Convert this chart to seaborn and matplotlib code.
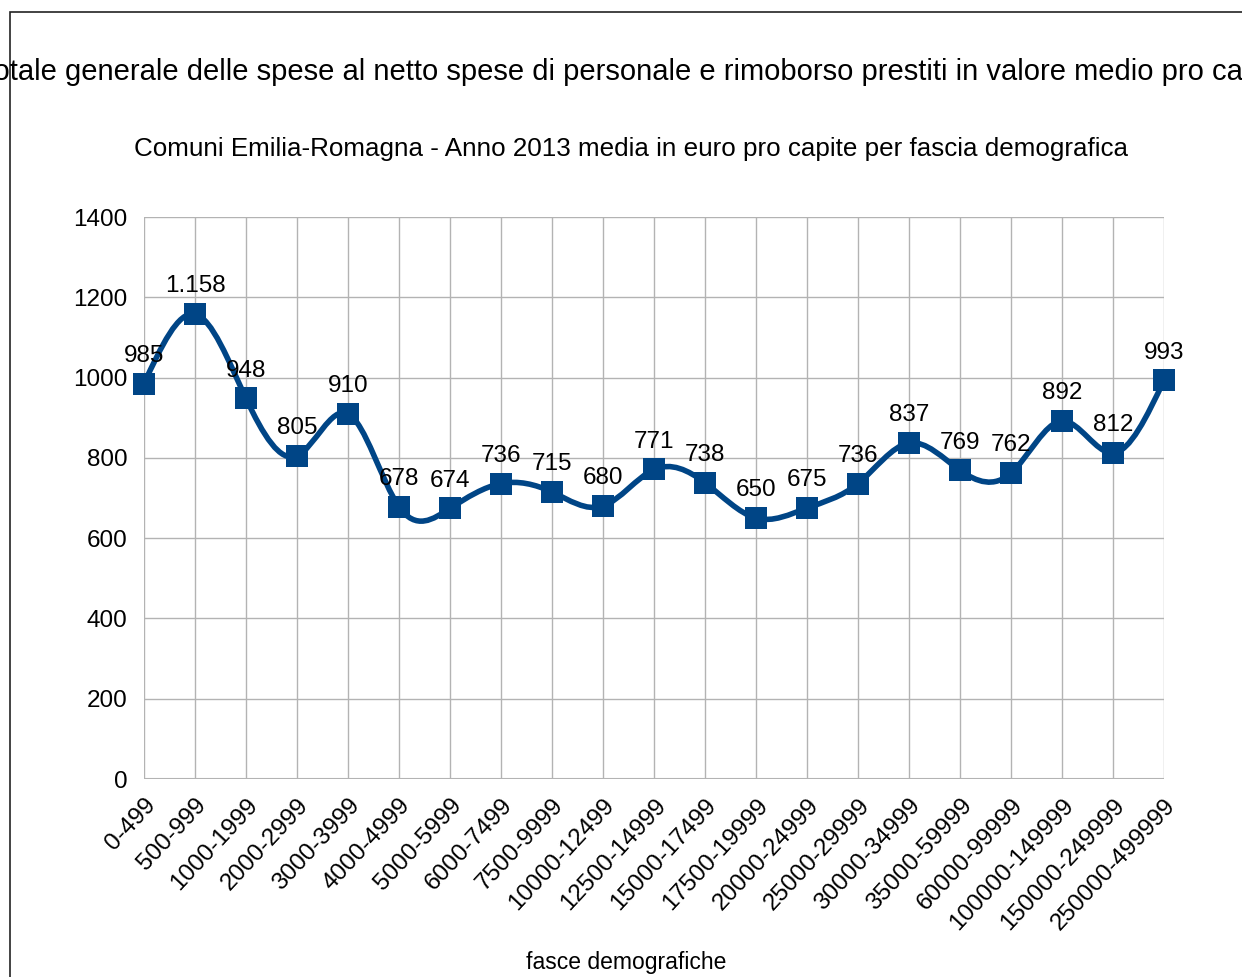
import numpy as np
import matplotlib
matplotlib.use("Agg")
import matplotlib.pyplot as plt
from matplotlib.path import Path
from matplotlib.patches import PathPatch, Rectangle
import seaborn as sns

TITLE = ("Totale generale delle spese al netto spese di personale e rimoborso "
         "prestiti in valore medio pro capite")
SUBTITLE = "Comuni Emilia-Romagna - Anno 2013 media in euro pro capite per fascia demografica"
X_LABEL = "fasce demografiche"

fasce = ["0-499", "500-999", "1000-1999", "2000-2999", "3000-3999", "4000-4999",
         "5000-5999", "6000-7499", "7500-9999", "10000-12499", "12500-14999",
         "15000-17499", "17500-19999", "20000-24999", "25000-29999", "30000-34999",
         "35000-59999", "60000-99999", "100000-149999", "150000-249999", "250000-499999"]
spesa = [985, 1158, 948, 805, 910, 678, 674, 736, 715, 680, 771,
         738, 650, 675, 736, 837, 769, 762, 892, 812, 993]
y_ticks = [0, 200, 400, 600, 800, 1000, 1200, 1400]

BLUE = "#004586"
GRID = "#b3b3b3"


def spline_path(xs, ys):
    # natural cubic spline (like the office chart), drawn as bezier segments
    x = np.asarray(xs, float)
    y = np.asarray(ys, float)
    n = len(x)
    h = np.diff(x)
    A = np.zeros((n, n))
    b = np.zeros(n)
    A[0, 0] = A[-1, -1] = 1
    for i in range(1, n - 1):
        A[i, i - 1] = h[i - 1]
        A[i, i] = 2 * (h[i - 1] + h[i])
        A[i, i + 1] = h[i]
        b[i] = 6 * ((y[i + 1] - y[i]) / h[i] - (y[i] - y[i - 1]) / h[i - 1])
    m = np.linalg.solve(A, b)
    verts = [(x[0], y[0])]
    codes = [Path.MOVETO]
    for i in range(n - 1):
        slope = (y[i + 1] - y[i]) / h[i]
        d0 = slope - h[i] * (2 * m[i] + m[i + 1]) / 6
        d1 = slope + h[i] * (m[i] + 2 * m[i + 1]) / 6
        verts += [(x[i] + h[i] / 3, y[i] + d0 * h[i] / 3),
                  (x[i + 1] - h[i] / 3, y[i + 1] - d1 * h[i] / 3),
                  (x[i + 1], y[i + 1])]
        codes += [Path.CURVE4] * 3
    return Path(verts, codes)


sns.set_style("white")
plt.rcParams['font.family'] = ['Liberation Sans', 'DejaVu Sans']
plt.rcParams['text.color'] = 'black'

fig = plt.figure(figsize=(12.42, 9.77), dpi=100)
ax = fig.add_axes([144 / 1242, 1 - 779 / 977, 1020 / 1242, 562 / 977])

pos = np.arange(len(fasce))
ax.add_patch(PathPatch(spline_path(pos, spesa), facecolor='none', edgecolor=BLUE,
                       lw=4, zorder=3, clip_on=False))
sns.scatterplot(x=pos, y=spesa, marker='s', s=250, color=BLUE, edgecolor=BLUE,
                linewidth=0, zorder=4, clip_on=False, ax=ax)

# value labels in italian format (1.158)
for x, v in zip(pos, spesa):
    ax.annotate(f"{v:,}".replace(",", "."), (x, v), xytext=(0, 12),
                textcoords='offset points', ha='center', va='bottom',
                fontsize=17.5, color='black')

ax.set_xlim(0, len(fasce) - 1)
ax.set_ylim(0, 1400)
ax.set_yticks(y_ticks)
ax.set_xticks(pos)
ax.set_xticklabels(fasce, rotation=47, ha='right', rotation_mode='anchor')
ax.tick_params(axis='both', length=10, width=1, color=GRID, labelsize=17.5,
               labelcolor='black')
ax.tick_params(axis='x', pad=1)
ax.tick_params(axis='y', pad=2)
ax.grid(True, color=GRID, lw=1)
ax.set_axisbelow(True)
for s in ax.spines.values():
    s.set_visible(False)
ax.axhline(0, color=GRID, lw=1.5, zorder=1)

fig.text(634 / 1242, 1 - 72 / 977, TITLE, ha='center', va='center', fontsize=21)
fig.text(631 / 1242, 1 - 149 / 977, SUBTITLE, ha='center', va='center', fontsize=18.7)
fig.text(626 / 1242, 1 - 963 / 977, X_LABEL, ha='center', va='center', fontsize=16.5)

fig.add_artist(Rectangle((10 / 1242, -0.5), 2, 1.5 - 12 / 977, transform=fig.transFigure,
                         fill=False, edgecolor='#222222', lw=1.2))

fig.savefig("out.png", dpi=100)
